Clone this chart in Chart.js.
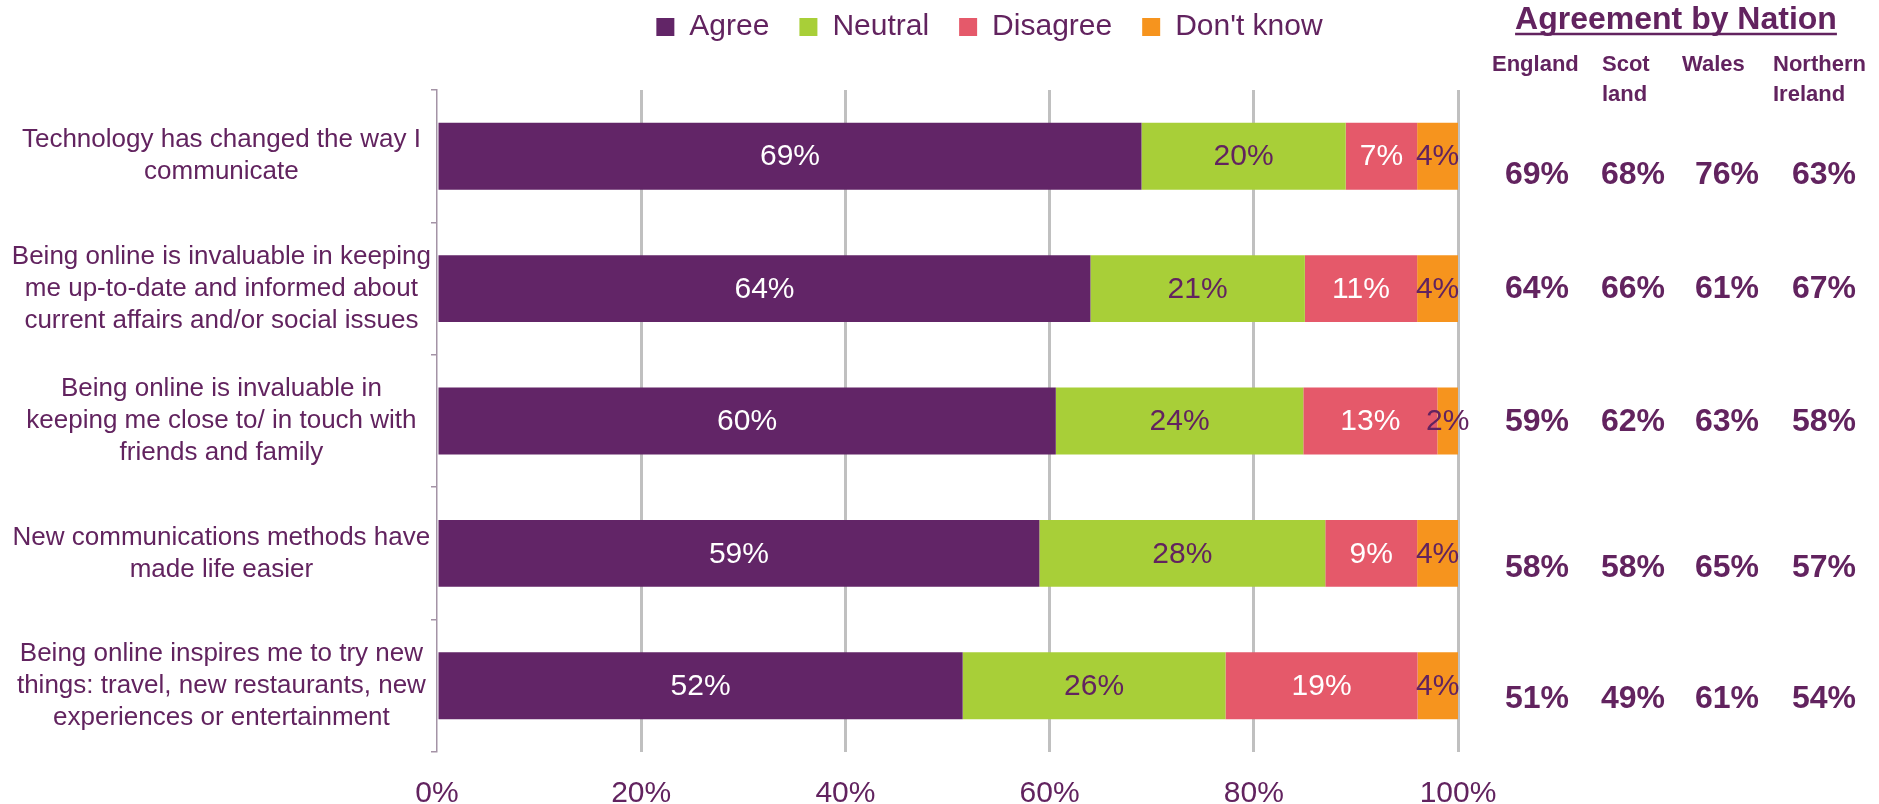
<!DOCTYPE html>
<html>
<head>
<meta charset="utf-8">
<title>Communication attitudes</title>
<script src="https://cdn.jsdelivr.net/npm/chart.js@4.4.1/dist/chart.umd.min.js"></script>
<style>
    html, body { margin: 0; padding: 0; background: #ffffff; }
    #wrap { width: 1879px; height: 804px; position: relative; }
</style>
</head>
<body>
<div id="wrap"><canvas id="chart"></canvas></div>
<script>
// Statements (y axis), one array of lines each
const categories = [
    ["Technology has changed the way I", "communicate"],
    ["Being online is invaluable in keeping", "me up-to-date and informed about", "current affairs and/or social issues"],
    ["Being online is invaluable in", "keeping me close to/ in touch with", "friends and family"],
    ["New communications methods have", "made life easier"],
    ["Being online inspires me to try new", "things: travel, new restaurants, new", "experiences or entertainment"]
];

// Overall answers, in %
const agree    = [69, 64, 60, 59, 52];
const neutral  = [20, 21, 24, 28, 26];
const disagree = [7, 11, 13, 9, 19];
const dontKnow = [4, 4, 2, 4, 4];

// Agreement by nation, in %
const nations = [["England"], ["Scot", "land"], ["Wales"], ["Northern", "Ireland"]];
const england         = [69, 64, 59, 58, 51];
const scotland        = [68, 66, 62, 58, 49];
const wales           = [76, 61, 63, 65, 61];
const northernIreland = [63, 67, 58, 57, 54];

const xTicks = [0, 20, 40, 60, 80, 100];

const PURPLE = "#62235f";
const FONT = "'Liberation Sans', Arial, sans-serif";

// 100% stacked: each row is scaled to its own total
const totals = agree.map((v, i) => v + neutral[i] + disagree[i] + dontKnow[i]);
const share = arr => arr.map((v, i) => v / totals[i] * 100);

function makeSet(label, values, color, textColor) {
    return {
        label: label,
        data: share(values),
        shown: values,
        textColor: textColor,
        backgroundColor: color,
        borderWidth: 0,
        barPercentage: 0.505,
        categoryPercentage: 1
    };
}

// Labels in the middle of each segment
const segmentLabels = {
    id: "segmentLabels",
    afterDatasetsDraw(chart) {
        const ctx = chart.ctx;
        ctx.save();
        ctx.font = "30px " + FONT;
        ctx.textAlign = "center";
        ctx.textBaseline = "middle";
        chart.data.datasets.forEach((ds, d) => {
            chart.getDatasetMeta(d).data.forEach((bar, i) => {
                ctx.fillStyle = ds.textColor;
                ctx.fillText(ds.shown[i] + "%", (bar.x + bar.base) / 2, bar.y + 1);
            });
        });
        ctx.restore();
    }
};

// Agreement by Nation table on the right
const nationTable = {
    id: "nationTable",
    afterDraw(chart) {
        const ctx = chart.ctx;
        const yScale = chart.scales.y;
        const columns = [england, scotland, wales, northernIreland];
        const colCenters = [1537, 1633, 1727, 1824];
        const headLeft = [1492, 1602, 1682, 1773];
        const rowShift = [19, 1, 1, 15, 13];
        ctx.save();
        ctx.fillStyle = PURPLE;
        ctx.strokeStyle = PURPLE;

        // title, underlined
        ctx.font = "bold 32px " + FONT;
        ctx.textAlign = "center";
        ctx.textBaseline = "alphabetic";
        const title = "Agreement by Nation";
        const tw = ctx.measureText(title).width;
        ctx.fillText(title, 1676, 29);
        ctx.lineWidth = 2.5;
        ctx.beginPath();
        ctx.moveTo(1676 - tw / 2, 34);
        ctx.lineTo(1676 + tw / 2, 34);
        ctx.stroke();

        // column heads
        ctx.font = "bold 22px " + FONT;
        ctx.textAlign = "left";
        ctx.textBaseline = "middle";
        nations.forEach((lines, c) => {
            lines.forEach((line, l) => ctx.fillText(line, headLeft[c], 65 + l * 30));
        });

        // values
        ctx.font = "bold 32px " + FONT;
        ctx.textAlign = "center";
        columns.forEach((col, c) => {
            col.forEach((v, i) => {
                ctx.fillText(v + "%", colCenters[c], yScale.getPixelForValue(i) + rowShift[i]);
            });
        });
        ctx.restore();
    }
};

Chart.defaults.font.family = FONT;
Chart.defaults.color = PURPLE;

new Chart(document.getElementById("chart"), {
    type: "bar",
    data: {
        labels: categories,
        datasets: [
            makeSet("Agree", agree, "#622567", "#ffffff"),
            makeSet("Neutral", neutral, "#a8cf38", PURPLE),
            makeSet("Disagree", disagree, "#e5596a", "#ffffff"),
            makeSet("Don't know", dontKnow, "#f6941e", PURPLE)
        ]
    },
    options: {
        indexAxis: "y",
        responsive: true,
        maintainAspectRatio: false,
        devicePixelRatio: 1,
        animation: false,
        // right padding below zero pushes the legend centre to the right
        layout: { padding: { left: 0, right: -100, top: -18, bottom: 0 } },
        plugins: {
            tooltip: { enabled: false },
            legend: {
                position: "top",
                align: "center",
                labels: {
                    boxWidth: 18,
                    boxHeight: 18,
                    padding: 30,
                    color: PURPLE,
                    font: { size: 30 }
                }
            }
        },
        scales: {
            x: {
                stacked: true,
                min: 0,
                max: 100,
                afterBuildTicks: s => { s.ticks = xTicks.map(v => ({ value: v })); },
                afterFit: s => { s.height = 52; },
                ticks: {
                    padding: 24,
                    color: PURPLE,
                    font: { size: 30 },
                    callback: v => v + "%"
                },
                grid: {
                    drawTicks: false,
                    lineWidth: 3,
                    color: c => c.index === 0 ? "rgba(0,0,0,0)" : "#c0c0c0"
                },
                border: { display: false }
            },
            xTop: {
                type: "linear",
                position: "top",
                afterFit: s => { s.height = 38; },
                ticks: { display: false },
                grid: { display: false },
                border: { display: false }
            },
            y: {
                stacked: true,
                afterFit: s => { s.width = 437; },
                ticks: {
                    padding: 0,
                    crossAlign: "center",
                    color: PURPLE,
                    font: { size: 26, lineHeight: 1.23 }
                },
                grid: {
                    drawOnChartArea: false,
                    drawTicks: true,
                    tickLength: 6,
                    color: "#a493a6",
                    lineWidth: 1.5
                },
                border: { display: true, color: "#a493a6", width: 1.5 }
            },
            yRight: {
                type: "category",
                position: "right",
                labels: ["", "", "", "", ""],
                afterFit: s => { s.width = 521; },
                ticks: { display: false },
                grid: { display: false },
                border: { display: false }
            }
        }
    },
    plugins: [segmentLabels, nationTable]
});
</script>
</body>
</html>
